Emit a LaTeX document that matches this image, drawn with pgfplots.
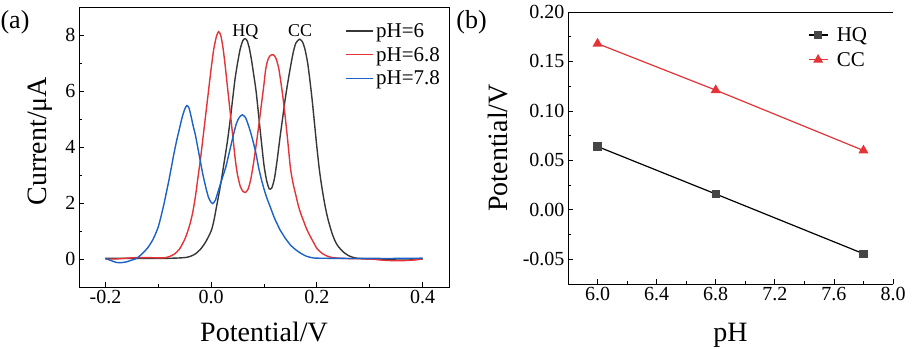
\documentclass[border=0pt]{standalone}
\usepackage{pgfplots}
\pgfplotsset{compat=1.18}
\usepackage{fontspec}
\setmainfont{Liberation Serif}
\definecolor{cblack}{RGB}{55,55,55}
\definecolor{cred}{RGB}{228,52,56}
\definecolor{cblue}{RGB}{28,98,196}
\definecolor{cgray}{RGB}{70,70,70}
\begin{document}
\begin{tikzpicture}
\useasboundingbox (0,0) rectangle (912pt,348pt);
\clip (0,0) rectangle (912pt,348pt);
\fill[white] (0,0) rectangle (912pt,348pt);
\begin{axis}[
 at={(79pt,61pt)}, anchor=south west, scale only axis, width=370pt, height=280pt,
 xmin=-0.25, xmax=0.45, ymin=-1, ymax=9,
 xtick={-0.2,0,0.2,0.4}, xticklabels={-0.2,0.0,0.2,0.4},
 ytick={0,2,4,6,8}, yticklabels={0,2,4,6,8},
 minor x tick num=1, minor y tick num=1,
 tick align=inside, tick pos=left,
 major tick length=5pt, minor tick length=3pt,
 tick style={line width=0.8pt, black},
 axis line style={line width=0.8pt},
 ticklabel style={font=\fontsize{20}{24}\selectfont},
 xlabel={Potential/V}, ylabel={Current/μA},
 label style={font=\fontsize{28}{32}\selectfont},
 xlabel style={at={(axis description cs:0.5,-0.196)}, anchor=base},
 ylabel style={at={(axis description cs:-0.0878,0.521)}, anchor=base},
 legend image code/.code={\draw[#1] (0pt,0pt) -- (27pt,0pt);},
 legend style={draw=none, fill=none, at={(0.719,0.952)}, anchor=north west,
   font=\fontsize{21}{24}\selectfont, row sep=3.5pt, inner sep=0pt,
   nodes={inner sep=2.5pt},
   every even column/.append style={text height=15pt, text depth=5pt}},
 legend cell align=left,
]
\addplot[color=cblack, line width=1.4pt, smooth, tension=0.4] coordinates {
(-0.20,0.02)(-0.15,0.02)(-0.10,0.02)(-0.07,0.03)(-0.05,0.05)(-0.04,0.09)(-0.03,0.18)
(-0.02,0.35)(-0.01,0.62)(0.00,1.0)(0.005,1.35)(0.01,1.85)(0.015,2.35)(0.02,2.9)
(0.025,3.5)(0.03,4.1)(0.035,4.8)(0.04,5.6)(0.045,6.4)(0.05,7.0)(0.055,7.5)(0.06,7.8)
(0.064,7.87)(0.068,7.8)(0.072,7.55)(0.076,7.15)(0.08,6.65)(0.085,6.0)(0.09,5.1)
(0.095,4.2)(0.10,3.35)(0.105,2.8)(0.11,2.5)(0.115,2.55)(0.12,2.9)(0.125,3.55)
(0.13,4.3)(0.135,5.0)(0.14,5.7)(0.145,6.3)(0.15,6.85)(0.155,7.35)(0.16,7.7)
(0.167,7.85)(0.173,7.75)(0.178,7.45)(0.183,6.95)(0.188,6.2)(0.191,5.7)(0.195,4.95)
(0.20,4.0)(0.205,3.15)(0.21,2.5)(0.215,1.95)(0.22,1.5)(0.225,1.15)(0.23,0.85)
(0.235,0.62)(0.24,0.46)(0.245,0.35)(0.25,0.25)(0.26,0.12)(0.27,0.05)(0.28,0.02)
(0.30,0.0)(0.33,-0.02)(0.36,-0.04)(0.38,-0.03)(0.40,0.0)};
\addlegendentry{pH=6}
\addplot[color=cred, line width=1.4pt, smooth, tension=0.4] coordinates {
(-0.20,0.0)(-0.18,0.0)(-0.16,0.03)(-0.14,0.05)(-0.12,0.05)(-0.10,0.04)(-0.09,0.04)
(-0.08,0.08)(-0.07,0.17)(-0.06,0.35)(-0.05,0.7)(-0.045,0.95)(-0.04,1.25)(-0.035,1.65)
(-0.03,2.2)(-0.025,2.9)(-0.02,3.6)(-0.015,4.4)(-0.01,5.2)(-0.005,6.0)(0.00,6.8)
(0.005,7.5)(0.01,7.95)(0.014,8.12)(0.018,8.0)(0.022,7.6)(0.026,7.0)(0.03,6.3)
(0.034,5.6)(0.038,4.9)(0.042,4.2)(0.046,3.5)(0.05,3.0)(0.055,2.6)(0.06,2.42)
(0.065,2.38)(0.07,2.5)(0.075,2.85)(0.08,3.4)(0.085,4.05)(0.09,4.75)(0.095,5.5)
(0.10,6.25)(0.103,6.75)(0.107,7.1)(0.112,7.27)(0.118,7.29)(0.123,7.15)(0.128,6.8)
(0.132,6.3)(0.135,5.9)(0.14,5.1)(0.145,4.2)(0.15,3.25)(0.155,2.7)(0.16,2.3)
(0.165,1.9)(0.17,1.6)(0.175,1.35)(0.18,1.1)(0.185,0.9)(0.19,0.72)(0.195,0.55)
(0.20,0.38)(0.21,0.2)(0.22,0.1)(0.23,0.05)(0.25,0.02)(0.30,0.0)(0.33,-0.05)
(0.36,-0.06)(0.38,-0.04)(0.40,0.0)};
\addlegendentry{pH=6.8}
\addplot[color=cblue, line width=1.4pt, smooth, tension=0.4] coordinates {
(-0.20,0.02)(-0.19,-0.05)(-0.18,-0.12)(-0.17,-0.13)(-0.16,-0.1)(-0.15,-0.04)
(-0.14,0.03)(-0.13,0.2)(-0.12,0.4)(-0.11,0.7)(-0.10,1.15)(-0.09,1.9)(-0.085,2.35)
(-0.08,2.8)(-0.075,3.3)(-0.07,3.8)(-0.065,4.25)(-0.06,4.65)(-0.055,5.05)(-0.05,5.35)
(-0.046,5.48)(-0.042,5.4)(-0.038,5.1)(-0.034,4.75)(-0.03,4.45)(-0.025,3.95)
(-0.02,3.45)(-0.016,3.05)(-0.01,2.55)(-0.005,2.2)(0.00,2.02)(0.003,1.98)(0.008,2.1)
(0.013,2.4)(0.018,2.7)(0.023,3.0)(0.028,3.3)(0.033,3.7)(0.038,4.1)(0.043,4.5)
(0.048,4.85)(0.053,5.05)(0.059,5.15)(0.065,5.05)(0.07,4.8)(0.075,4.5)(0.08,4.15)
(0.085,3.75)(0.09,3.25)(0.095,2.85)(0.10,2.5)(0.105,2.2)(0.11,1.95)(0.115,1.7)
(0.12,1.45)(0.125,1.25)(0.13,1.05)(0.135,0.9)(0.14,0.75)(0.15,0.5)(0.16,0.33)
(0.17,0.2)(0.18,0.1)(0.19,0.05)(0.20,0.03)(0.25,0.02)(0.30,0.02)(0.35,0.02)(0.40,0.03)};
\addlegendentry{pH=7.8}
\node[anchor=base, font=\fontsize{18}{20}\selectfont] at (axis cs:0.0647,7.96) {HQ};
\node[anchor=base, font=\fontsize{18}{20}\selectfont] at (axis cs:0.1685,7.96) {CC};
\end{axis}
\begin{axis}[
 at={(568pt,64pt)}, anchor=south west, scale only axis, width=325pt, height=272pt,
 xmin=5.8, xmax=8.0, ymin=-0.075, ymax=0.20,
 axis lines*=left, axis line style={-, line width=0.8pt},
 xtick={6.0,6.4,6.8,7.2,7.6,8.0}, xticklabels={6.0,6.4,6.8,7.2,7.6,8.0},
 ytick={-0.05,0,0.05,0.10,0.15,0.20}, yticklabels={-0.05,0.00,0.05,0.10,0.15,0.20},
 minor x tick num=1, minor y tick num=1,
 tick align=inside,
 major tick length=5pt, minor tick length=3pt,
 tick style={line width=0.8pt, black},
 ticklabel style={font=\fontsize{20}{24}\selectfont},
 xlabel={pH}, ylabel={Potential/V},
 label style={font=\fontsize{28}{32}\selectfont},
 xlabel style={at={(axis description cs:0.5,-0.213)}, anchor=base},
 ylabel style={at={(axis description cs:-0.186,0.5)}, anchor=base},
 legend image code/.code={\draw[#1, mark repeat=2, mark phase=2] plot coordinates {(0pt,0pt) (9.5pt,0pt) (19pt,0pt)}; \path (25pt,0pt);},
 legend style={draw=none, fill=none, at={(0.738,0.954)}, anchor=north west,
   font=\fontsize{21}{24}\selectfont, row sep=4.5pt, inner sep=0pt,
   nodes={inner sep=2.5pt},
   every even column/.append style={text height=15pt, text depth=5pt}},
 legend cell align=left,
]
\draw[line width=0.8pt] (rel axis cs:0,1) -- (rel axis cs:1,1);
\addplot[black, line width=1.2pt, mark=square*, mark size=3.5pt, mark options={fill=cgray, draw=cgray}] coordinates {(6.0,0.064)(6.8,0.016)(7.8,-0.0444)};
\addlegendentry{HQ}
\addplot[cred, line width=1.2pt, mark=triangle*, mark size=4.6pt, mark options={fill=cred, draw=cred}] coordinates {(6.0,0.168)(6.8,0.121)(7.8,0.060)};
\addlegendentry{CC}
\end{axis}
\node[font=\fontsize{26}{30}\selectfont] at (15pt,326pt) {(a)};
\node[font=\fontsize{26}{30}\selectfont] at (471.5pt,326pt) {(b)};
\end{tikzpicture}
\end{document}
